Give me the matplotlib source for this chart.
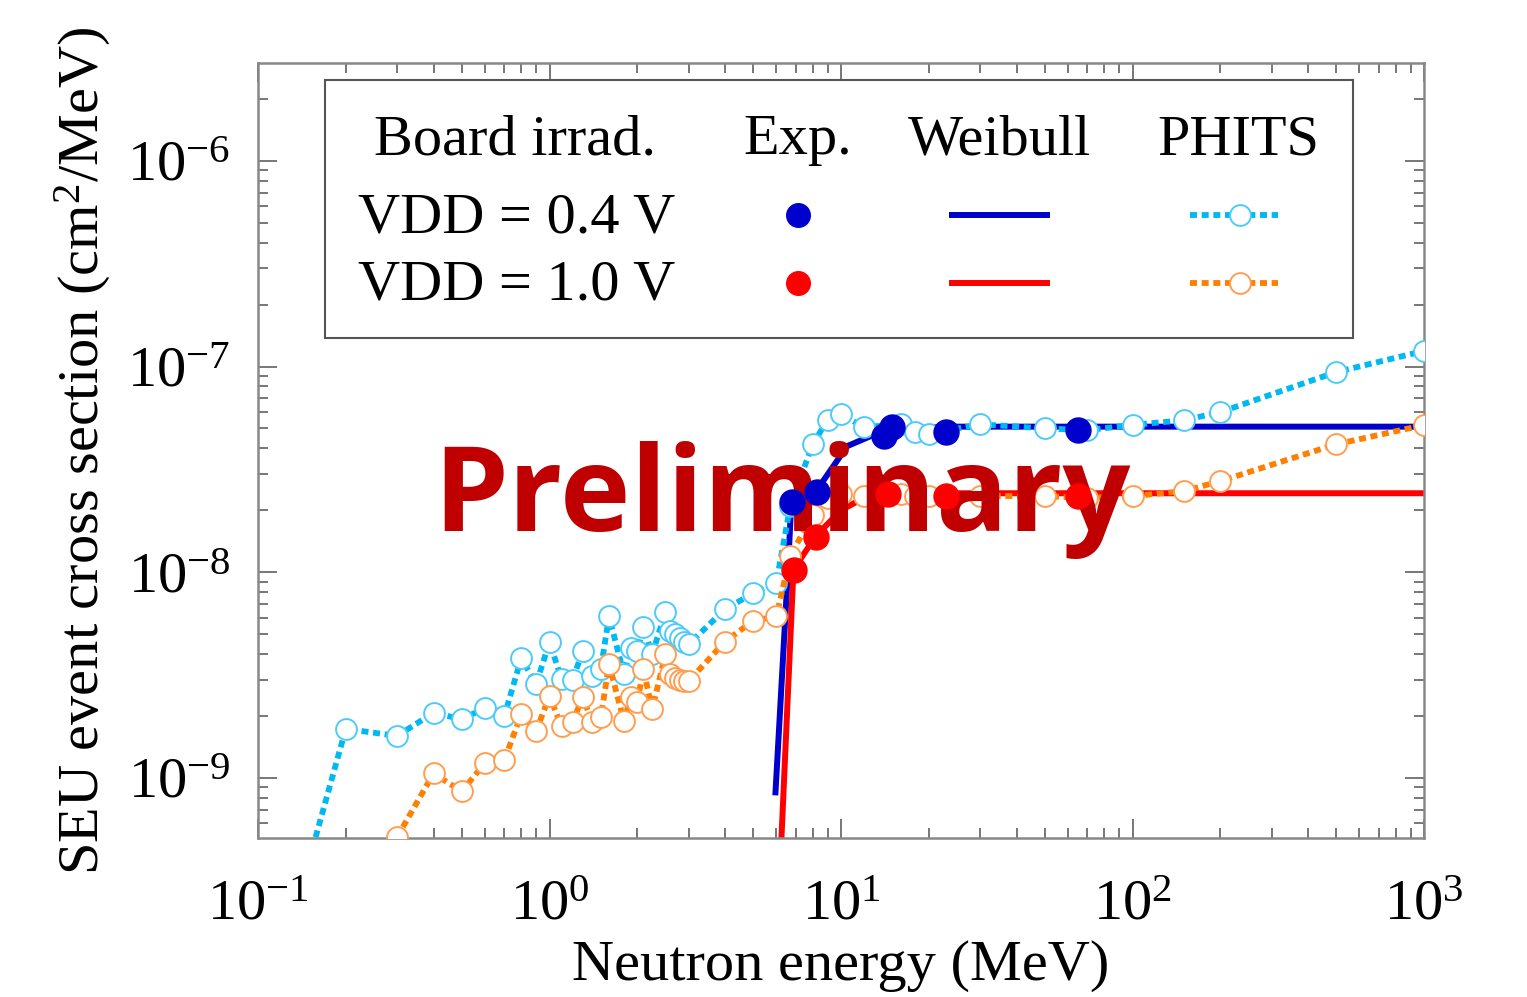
import numpy as np
import matplotlib
matplotlib.use("Agg")
import matplotlib.pyplot as plt
from matplotlib.ticker import LogLocator, LogFormatterSciNotation, NullFormatter

plt.rcParams['font.family'] = 'Liberation Serif'
plt.rcParams['mathtext.fontset'] = 'custom'
plt.rcParams['mathtext.rm'] = 'Liberation Serif'
plt.rcParams['mathtext.it'] = 'Liberation Serif:italic'

# ----------- DATA ------------
# PHITS, VDD = 0.4 V
phits_e_04 = [0.15, 0.2, 0.3, 0.4, 0.5, 0.6, 0.7, 0.8, 0.9, 1.0, 1.1, 1.2, 1.3, 1.4,
              1.5, 1.6, 1.8, 1.9, 2.0, 2.1, 2.25, 2.5, 2.6, 2.7, 2.8, 2.9, 3.0, 4.0,
              5.0, 6.0, 6.7, 8.0, 9.0, 10, 12, 16, 18, 20, 30, 50, 70, 100, 150,
              200, 500, 1000]
phits_s_04 = [4.0e-10, 1.73e-9, 1.6e-9, 2.07e-9, 1.93e-9, 2.18e-9, 2.0e-9, 3.82e-9,
              2.86e-9, 4.57e-9, 3.02e-9, 3.0e-9, 4.13e-9, 3.12e-9, 3.38e-9, 6.1e-9,
              3.19e-9, 4.3e-9, 4.13e-9, 5.4e-9, 4.0e-9, 6.4e-9, 5.17e-9, 5.0e-9,
              4.8e-9, 4.6e-9, 4.46e-9, 6.6e-9, 7.9e-9, 8.9e-9, 2.1e-8, 4.2e-8,
              5.5e-8, 5.86e-8, 5.07e-8, 5.24e-8, 4.8e-8, 4.7e-8, 5.24e-8, 5.0e-8,
              4.9e-8, 5.2e-8, 5.48e-8, 6.0e-8, 9.4e-8, 1.19e-7]

# PHITS, VDD = 1.0 V
phits_e_10 = [0.3, 0.4, 0.5, 0.6, 0.7, 0.8, 0.9, 1.0, 1.1, 1.2, 1.3, 1.4, 1.5, 1.6,
              1.8, 1.9, 2.0, 2.1, 2.25, 2.5, 2.6, 2.7, 2.8, 2.9, 3.0, 4.0, 5.0, 6.0,
              6.7, 8.0, 9.0, 10, 12, 16, 18, 20, 30, 50, 70, 100, 150, 200, 500, 1000]
phits_s_10 = [5.15e-10, 1.05e-9, 8.6e-10, 1.18e-9, 1.22e-9, 2.04e-9, 1.69e-9, 2.5e-9,
              1.78e-9, 1.87e-9, 2.47e-9, 1.87e-9, 1.97e-9, 3.57e-9, 1.89e-9, 2.47e-9,
              2.33e-9, 3.37e-9, 2.15e-9, 4.0e-9, 3.2e-9, 3.05e-9, 3.0e-9, 2.95e-9,
              2.95e-9, 4.6e-9, 5.8e-9, 6.1e-9, 1.2e-8, 1.9e-8, 2.3e-8, 2.4e-8,
              2.35e-8, 2.4e-8, 2.35e-8, 2.35e-8, 2.35e-8, 2.34e-8, 2.3e-8, 2.34e-8,
              2.48e-8, 2.77e-8, 4.19e-8, 5.19e-8]

# Experiment
exp_e_04 = [6.8, 8.3, 14, 15, 23, 65]
exp_s_04 = [2.2e-8, 2.45e-8, 4.6e-8, 5.1e-8, 4.8e-8, 4.9e-8]
exp_e_10 = [6.9, 8.2, 14.5, 23, 65]
exp_s_10 = [1.02e-8, 1.48e-8, 2.4e-8, 2.35e-8, 2.35e-8]

# Weibull fit curves
weib_e_04 = [5.96, 6.55, 6.75, 8.3, 10.5, 12.6, 14.5, 23.7, 1000]
weib_s_04 = [8.5e-10, 9.25e-9, 2.14e-8, 2.53e-8, 4.1e-8, 4.58e-8, 4.95e-8, 5.1e-8, 5.1e-8]
weib_e_10 = [6.2, 6.87, 8.2, 10, 12, 15, 1000]
weib_s_10 = [4.0e-10, 1.03e-8, 1.5e-8, 2.0e-8, 2.3e-8, 2.42e-8, 2.42e-8]

C_BLUE = '#0000CC'
C_RED = '#FF0000'
C_CYAN = '#00B9F2'
C_CYAN_E = '#4CCBFA'
C_ORANGE = '#FF8000'
C_ORANGE_E = '#FF9E50'

# ----------- FIGURE ------------
fig = plt.figure(figsize=(15.27, 9.97), dpi=100)
ax = fig.add_axes([258 / 1527, 1 - 838 / 997, (1424 - 258) / 1527, (838 - 63) / 997])
ax.set_xscale('log')
ax.set_yscale('log')

dots = (0, (1.2, 0.8))
phits_kw = dict(lw=4.2, dash_capstyle='butt', marker='o', ms=15, mfc='white', mew=1.4)
ax.plot(phits_e_04, phits_s_04, ls=dots, color=C_CYAN, mec=C_CYAN_E, zorder=3, **phits_kw)
ax.plot(phits_e_10, phits_s_10, ls=dots, color=C_ORANGE, mec=C_ORANGE_E, zorder=3, **phits_kw)

ax.plot(weib_e_04, weib_s_04, '-', color=C_BLUE, lw=4.3, zorder=2)
ax.plot(weib_e_10, weib_s_10, '-', color=C_RED, lw=4.3, zorder=2)

ax.plot(exp_e_04, exp_s_04, 'o', color=C_BLUE, ms=18, zorder=5)
ax.plot(exp_e_10, exp_s_10, 'o', color=C_RED, ms=18, zorder=5)

ax.text(782, 497, 'Preliminary', transform=None, fontsize=86, fontweight='bold',
        family='Open Sans', color='#C00000', ha='center', va='center', zorder=4)

ax.set_xlim(0.1, 1000)
ax.set_ylim(5.1e-10, 2.99e-6)

ax.xaxis.set_major_locator(LogLocator(base=10, numticks=10))
ax.xaxis.set_minor_locator(LogLocator(base=10, subs=np.arange(2, 10), numticks=10))
ax.yaxis.set_major_locator(LogLocator(base=10, numticks=10))
ax.yaxis.set_minor_locator(LogLocator(base=10, subs=np.arange(2, 10), numticks=10))
ax.xaxis.set_major_formatter(LogFormatterSciNotation())
ax.yaxis.set_major_formatter(LogFormatterSciNotation())
ax.xaxis.set_minor_formatter(NullFormatter())
ax.yaxis.set_minor_formatter(NullFormatter())

ax.tick_params(which='both', direction='in', top=True, right=True, colors='#777777',
               labelcolor='black', labelsize=42, width=1.4)
ax.tick_params(which='major', length=14)
ax.tick_params(which='minor', length=7)
ax.tick_params(axis='x', which='major', pad=30)
ax.tick_params(axis='y', which='major', pad=20)
for s in ax.spines.values():
    s.set_color('#888888')
    s.set_linewidth(1.8)

ax.set_xlabel('Neutron energy (MeV)', fontsize=42, labelpad=6)
ax.set_ylabel('SEU event cross section (cm$^2$/MeV)', fontsize=42, labelpad=10)

# ----------- LEGEND BOX ------------
lg = fig.add_axes([325 / 1527, 1 - 338 / 997, (1353 - 325) / 1527, (338 - 80) / 997])
lg.set_xlim(325, 1353)
lg.set_ylim(338, 80)
lg.set_xticks([])
lg.set_yticks([])
for s in lg.spines.values():
    s.set_color('#555555')
    s.set_linewidth(1.5)

fs = 42
lg.text(515, 140, 'Board irrad.', fontsize=fs, ha='center', va='center')
lg.text(798, 140, 'Exp.', fontsize=fs, ha='center', va='center')
lg.text(1000, 140, 'Weibull', fontsize=fs, ha='center', va='center')
lg.text(1238, 140, 'PHITS', fontsize=fs, ha='center', va='center')
lg.text(358, 218, 'VDD = 0.4 V', fontsize=fs, ha='left', va='center')
lg.text(358, 285, 'VDD = 1.0 V', fontsize=fs, ha='left', va='center')

rows = [(215, C_BLUE, C_CYAN, C_CYAN_E), (283, C_RED, C_ORANGE, C_ORANGE_E)]
for yy, c_exp, c_ph, c_phe in rows:
    lg.plot([798], [yy], 'o', color=c_exp, ms=17)
    lg.plot([952, 1047], [yy, yy], '-', color=c_exp, lw=4.3)
    lg.plot([1190, 1278], [yy, yy], ls=dots, color=c_ph, lw=4.2, dash_capstyle='butt')
    lg.plot([1240], [yy], 'o', ms=15, mfc='white', mec=c_phe, mew=1.4)

fig.savefig('out.png', dpi=100)
